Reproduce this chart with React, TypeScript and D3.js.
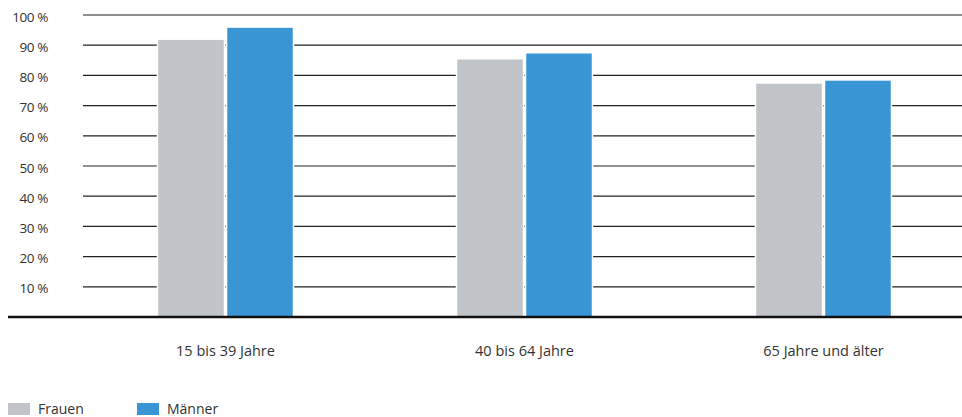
import React from "react";
import * as d3 from "d3";

const categories = ["15 bis 39 Jahre", "40 bis 64 Jahre", "65 Jahre und älter"];
const frauen = [92, 85.5, 77.5];
const maenner = [96, 87.5, 78.5];
const yTicks = [10, 20, 30, 40, 50, 60, 70, 80, 90, 100];
const seriesNames = ["Frauen", "Männer"];
const colors = ["#c1c4c8", "#3a95d4"];

export default function App() {
  const W = 962, H = 417;
  const y = d3.scaleLinear().domain([0, 100]).range([317, 15]);
  const x = d3.scaleBand<string>().domain(categories).range([76, 973]);
  const barW = 67;
  const font = "'Open Sans', Lato, sans-serif";
  return (
    <svg width={W} height={H} style={{ position: "absolute", left: 0, top: 0 }} fontFamily={font}>
      <rect width={W} height={H} fill="#fff" />
      {yTicks.map((t) => (
        <g key={t}>
          <line x1={83} x2={962} y1={y(t)} y2={y(t)} stroke="#222" strokeWidth={1.2} />
          <text x={48} y={y(t) + 3} textAnchor="end" dominantBaseline="middle" fontSize={13.5} fill="#333" letterSpacing={-0.4}>
            {t} %
          </text>
        </g>
      ))}
      {categories.map((c, i) => {
        const cx = (x(c) as number) + x.bandwidth() / 2;
        return (
          <g key={c}>
            {[frauen[i], maenner[i]].map((v, s) => (
              <rect
                key={s}
                x={s === 0 ? cx - barW - 1 : cx + 1}
                y={y(v)}
                width={barW}
                height={y(0) - y(v)}
                fill={colors[s]}
                stroke="#fff"
                strokeWidth={1.5}
              />
            ))}
            <text x={cx} y={352} textAnchor="middle" dominantBaseline="middle" fontSize={14.5} fill="#333">
              {c}
            </text>
          </g>
        );
      })}
      <line x1={8} x2={962} y1={317} y2={317} stroke="#111" strokeWidth={2.5} />
      {seriesNames.map((n, i) => (
        <g key={n} transform={`translate(${8 + i * 129},403)`}>
          <rect width={22} height={12} fill={colors[i]} />
          <text x={30} y={7} dominantBaseline="middle" fontSize={14} fill="#333">
            {n}
          </text>
        </g>
      ))}
    </svg>
  );
}
